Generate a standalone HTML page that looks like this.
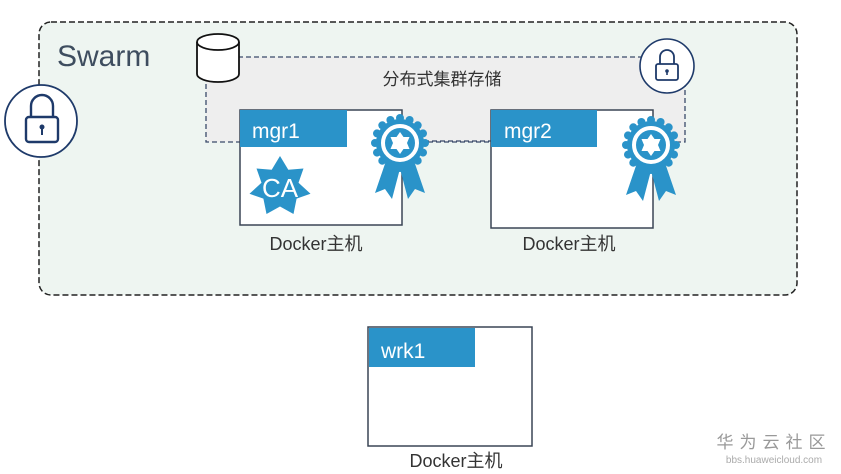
<!DOCTYPE html>
<html><head><meta charset="utf-8"><style>
html,body{margin:0;padding:0;background:#fff;}
svg{display:block;}
text{font-family:"Liberation Sans","Noto Sans CJK SC",sans-serif;}
</style></head><body>
<svg width="841" height="474" viewBox="0 0 841 474" xmlns="http://www.w3.org/2000/svg">
<defs>
<g id="ros">
  <polygon fill="#2a93c9" points="-12,12 -25,50 -15,46 -8,56 2,18"/>
  <polygon fill="#2a93c9" points="12,12 25,50 15,46 8,56 -2,18"/>
  <circle r="24" fill="#2a93c9"/>
  <g fill="#2a93c9">
    <circle cx="0" cy="-25" r="4"/><circle cx="0" cy="25" r="4"/><circle cx="-25" cy="0" r="4"/><circle cx="25" cy="0" r="4"/>
    <circle cx="17.7" cy="17.7" r="4"/><circle cx="-17.7" cy="17.7" r="4"/><circle cx="17.7" cy="-17.7" r="4"/><circle cx="-17.7" cy="-17.7" r="4"/>
    <circle cx="9.6" cy="23" r="4"/><circle cx="-9.6" cy="23" r="4"/><circle cx="9.6" cy="-23" r="4"/><circle cx="-9.6" cy="-23" r="4"/>
    <circle cx="23" cy="9.6" r="4"/><circle cx="-23" cy="9.6" r="4"/><circle cx="23" cy="-9.6" r="4"/><circle cx="-23" cy="-9.6" r="4"/>
  </g>
  <circle r="17" fill="none" stroke="#fff" stroke-width="4"/>
  <polygon fill="#fff" points="0,-11 3.5,-6 9.5,-6 7,0 9.5,6 3.5,6 0,11 -3.5,6 -9.5,6 -7,0 -9.5,-6 -3.5,-6"/>
</g>
</defs>
<rect x="39" y="22" width="758" height="273" rx="12" fill="#eef5f1" stroke="#222" stroke-width="1.5" stroke-dasharray="6,3"/>
<text x="57" y="66" font-size="30" fill="#3e4d5f">Swarm</text>
<!-- left lock -->
<circle cx="41" cy="121" r="36" fill="#fff" stroke="#1e3a6a" stroke-width="1.8"/>
<path d="M31 117 v-11 a11 11 0 0 1 22 0 v11" fill="none" stroke="#1e3a6a" stroke-width="2.4"/>
<rect x="26" y="117" width="32" height="25" rx="3" fill="#fff" stroke="#1e3a6a" stroke-width="2.4"/>
<circle cx="42" cy="127" r="2.5" fill="#1e3a6a"/><rect x="41" y="127" width="2" height="8" fill="#1e3a6a"/>
<!-- storage -->
<rect x="206" y="57" width="479" height="85" fill="#eeeeee" stroke="#3a4a6a" stroke-width="1.3" stroke-dasharray="5,3"/>
<text x="442" y="85" font-size="17" fill="#333" text-anchor="middle">分布式集群存储</text>
<path d="M197 42 v32 a21 8 0 0 0 42 0 v-32" fill="#fff" stroke="#111" stroke-width="1.8"/>
<ellipse cx="218" cy="42" rx="21" ry="8" fill="#fff" stroke="#111" stroke-width="1.8"/>
<circle cx="667" cy="66" r="27" fill="#fff" stroke="#1e3a6a" stroke-width="1.6"/>
<path d="M660 64 v-7 a7 7 0 0 1 14 0 v7" fill="none" stroke="#1e3a6a" stroke-width="1.8"/>
<rect x="656" y="64" width="22" height="16" rx="2" fill="#fff" stroke="#1e3a6a" stroke-width="1.8"/>
<circle cx="667" cy="71" r="1.8" fill="#1e3a6a"/><rect x="666.2" y="71" width="1.6" height="4" fill="#1e3a6a"/>
<line x1="424" y1="141" x2="491" y2="141" stroke="#3a4a6a" stroke-width="1.3" stroke-dasharray="5,3"/>
<!-- mgr1 -->
<rect x="240" y="110" width="162" height="115" fill="#fff" stroke="#3a4555" stroke-width="1.5"/>
<rect x="240" y="110" width="107" height="37" fill="#2a93c9"/>
<text x="252" y="138" font-size="21" fill="#fff">mgr1</text>
<g transform="translate(280,187)">
  <polygon fill="#2a93c9" points="0,-31 8.3,-17.3 23.5,-18.5 18.5,-4.3 30.5,6.8 16.6,11.6 13.5,27 0,19.5 -13.5,27 -16.6,11.6 -30.5,6.8 -18.5,-4.3 -23.5,-18.5 -8.3,-17.3"/>
  <text x="0" y="10" font-size="26" fill="#fff" text-anchor="middle">CA</text>
</g>
<use href="#ros" x="400" y="143"/>
<text x="316" y="250" font-size="18" fill="#333" text-anchor="middle">Docker主机</text>
<!-- mgr2 -->
<rect x="491" y="110" width="162" height="118" fill="#fff" stroke="#3a4555" stroke-width="1.5"/>
<rect x="491" y="110" width="106" height="37" fill="#2a93c9"/>
<text x="504" y="138" font-size="21" fill="#fff">mgr2</text>
<use href="#ros" x="651" y="145"/>
<text x="569" y="250" font-size="18" fill="#333" text-anchor="middle">Docker主机</text>
<!-- wrk1 -->
<rect x="368" y="327" width="164" height="119" fill="#fff" stroke="#3a4555" stroke-width="1.5"/>
<rect x="369" y="328" width="106" height="39" fill="#2a93c9"/>
<text x="381" y="358" font-size="21" fill="#fff">wrk1</text>
<text x="456" y="467" font-size="18" fill="#333" text-anchor="middle">Docker主机</text>
<!-- watermark -->
<text x="774" y="448" font-size="17" fill="#999" text-anchor="middle" letter-spacing="6">华为云社区</text>
<text x="774" y="463" font-size="10" fill="#aaa" text-anchor="middle">bbs.huaweicloud.com</text>
</svg>
</body></html>
